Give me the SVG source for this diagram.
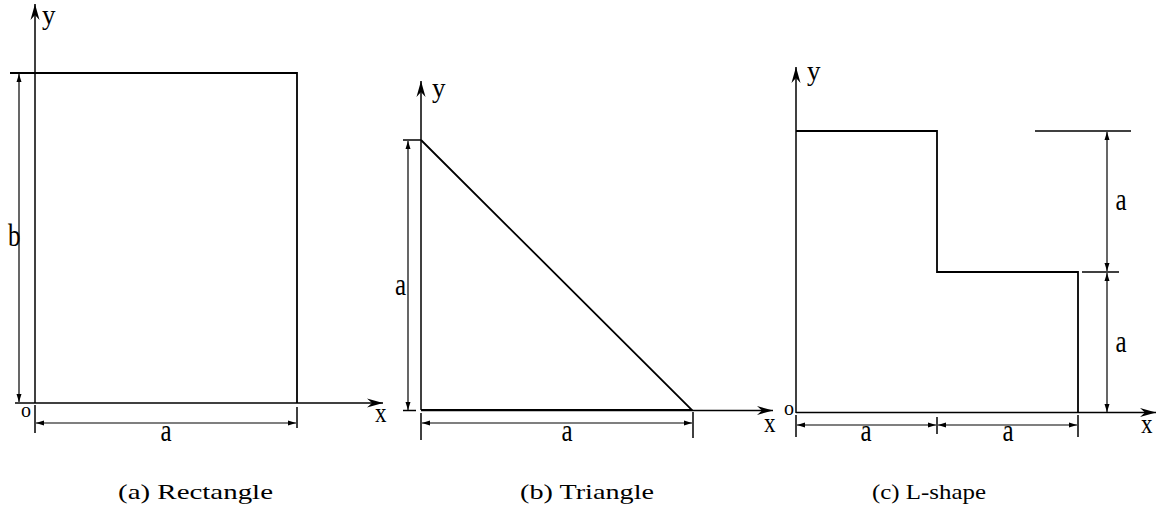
<svg xmlns="http://www.w3.org/2000/svg" width="1159" height="516" viewBox="0 0 1159 516">
<style>
.ln{stroke:#000;stroke-width:1.5;fill:none}
.th{stroke:#000;stroke-width:1.8;fill:none}
.dim{stroke:#000;stroke-width:1.2;fill:none;marker-start:url(#da);marker-end:url(#da)}
.ax{stroke:#000;stroke-width:1.5;fill:none;marker-end:url(#aa)}
.lb{font-family:"Liberation Serif",Tinos,"Times New Roman",serif;font-size:25px;fill:#000}
.yl{font-family:"Liberation Serif",Tinos,"Times New Roman",serif;font-size:27px;fill:#000}
.sm{font-family:"Liberation Serif",Tinos,"Times New Roman",serif;font-size:20px;fill:#000}
.xl{font-family:"Liberation Serif",Tinos,"Times New Roman",serif;font-size:23px;fill:#000}
.cap{font-family:"Liberation Serif",Tinos,"Times New Roman",serif;font-size:22px;fill:#000}
</style>
<defs>
<marker id="da" markerUnits="userSpaceOnUse" markerWidth="10" markerHeight="6" refX="8" refY="3" orient="auto-start-reverse" viewBox="0 0 10 6">
<path d="M0,0.5 L8,3 L0,5.5 z" fill="#000"/>
</marker>
<marker id="aa" markerUnits="userSpaceOnUse" markerWidth="18" markerHeight="10" refX="16" refY="5" orient="auto" viewBox="0 0 18 10">
<path d="M0,0.5 L16,5 L0,9.5 L5,5 z" fill="#000"/>
</marker>
</defs>

<g id="rectangle">
<path class="th" d="M10,73 H297 V403"/>
<line class="ax" x1="35" y1="403" x2="35" y2="4"/>
<line class="ax" x1="15" y1="403" x2="383" y2="403"/>
<line class="ln" x1="35" y1="405" x2="35" y2="433"/>
<line class="ln" x1="297" y1="407" x2="297" y2="428"/>
<text class="yl" x="42" y="24">y</text>
<text class="lb" transform="translate(8,246) scale(1,1.25)">b</text>
<text class="sm" x="21" y="417">o</text>
<text class="xl" transform="translate(375,422) scale(1,1.2)">x</text>
<text class="lb" text-anchor="middle" transform="translate(166,441) scale(1,1.3)">a</text>
<text class="cap" x="118" y="499" textLength="155" lengthAdjust="spacingAndGlyphs">(a) Rectangle</text>
</g>

<g id="triangle">
<path class="th" d="M421,140 L692,410 H421"/>
<line class="ax" x1="421" y1="410" x2="421" y2="81"/>
<line class="ax" x1="421" y1="410.5" x2="773" y2="410.5"/>
<line class="ln" x1="403" y1="140" x2="421" y2="140"/>
<line class="ln" x1="403" y1="410.5" x2="416" y2="410.5"/>
<line class="ln" x1="421" y1="413" x2="421" y2="440"/>
<line class="ln" x1="693" y1="412" x2="693" y2="438"/>
<text class="yl" x="432" y="97">y</text>
<text class="lb" transform="translate(395,295) scale(1,1.3)">a</text>
<text class="xl" transform="translate(764,432) scale(1,1.2)">x</text>
<text class="lb" text-anchor="middle" transform="translate(567,441) scale(1,1.3)">a</text>
<text class="cap" x="520" y="499" textLength="134" lengthAdjust="spacingAndGlyphs">(b) Triangle</text>
</g>

<g id="lshape">
<path class="th" d="M796,131 H937 V272 H1078 V412.5"/>
<line class="ax" x1="796" y1="413" x2="796" y2="67"/>
<line class="ax" x1="796" y1="412.5" x2="1156" y2="412.5"/>
<line class="ln" x1="1035" y1="131" x2="1131" y2="131"/>
<line class="ln" x1="1082" y1="272" x2="1119" y2="272"/>
<line class="ln" x1="796" y1="415" x2="796" y2="437"/>
<line class="ln" x1="937" y1="417" x2="937" y2="434"/>
<line class="ln" x1="1078" y1="415" x2="1078" y2="437"/>
<text class="yl" x="807" y="80">y</text>
<text class="sm" x="784" y="415">o</text>
<text class="xl" transform="translate(1141,433) scale(1,1.2)">x</text>
<text class="lb" text-anchor="middle" transform="translate(866,441) scale(1,1.3)">a</text>
<text class="lb" text-anchor="middle" transform="translate(1008,441) scale(1,1.3)">a</text>
<text class="lb" text-anchor="middle" transform="translate(1121,210) scale(1,1.3)">a</text>
<text class="lb" text-anchor="middle" transform="translate(1121,352) scale(1,1.3)">a</text>
<text class="cap" x="872" y="499" textLength="114" lengthAdjust="spacingAndGlyphs">(c) L-shape</text>
</g>

<g id="connectors">
<line class="dim" x1="19" y1="74" x2="19" y2="402"/>
<line class="dim" x1="36" y1="423" x2="296" y2="423"/>
<line class="dim" x1="408" y1="141" x2="408" y2="410"/>
<line class="dim" x1="422" y1="423" x2="692" y2="423"/>
<line class="dim" x1="797" y1="425" x2="936" y2="425"/>
<line class="dim" x1="938" y1="425" x2="1077" y2="425"/>
<line class="dim" x1="1107" y1="132" x2="1107" y2="271"/>
<line class="dim" x1="1107" y1="273" x2="1107" y2="412"/>
</g>
</svg>
